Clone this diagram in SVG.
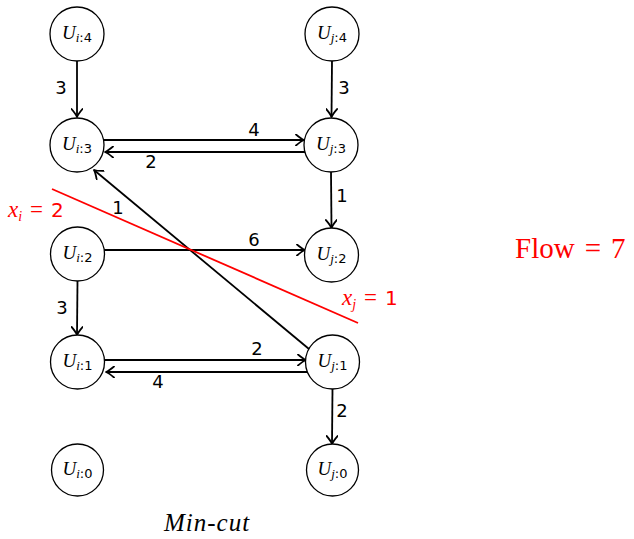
<svg xmlns="http://www.w3.org/2000/svg" width="634" height="539" viewBox="0 0 634 539">
<style>
.node circle{fill:#fff;stroke:#000;stroke-width:1.3}
.u{font-family:"Liberation Serif",serif;font-style:italic;font-size:19px}
.sub{font-size:13px}
.si{font-family:"Liberation Serif",serif;font-style:italic}
.sd{font-family:"DejaVu Sans",sans-serif;font-style:normal}
.edges line{stroke:#000;stroke-width:1.8;fill:none}
.el{font-family:"DejaVu Sans",sans-serif;font-size:18px;fill:#000;text-anchor:middle}
.red{fill:#f00}
</style>
<defs>
<marker id="arr" markerUnits="userSpaceOnUse" viewBox="-10 -6 12 12" markerWidth="12" markerHeight="12" refX="0" refY="0" orient="auto">
<path d="M-8,-5.5 Q-3,-1.2 0,0 Q-3,1.2 -8,5.5" fill="none" stroke="#000" stroke-width="1.8" stroke-linecap="round" stroke-linejoin="round"/>
</marker>
</defs>
<rect width="634" height="539" fill="#fff"/>
<g class="edges">
<line x1="77" y1="61" x2="77" y2="117" marker-end="url(#arr)"/>
<line x1="332" y1="61" x2="331.5" y2="117" marker-end="url(#arr)"/>
<line x1="103" y1="140" x2="304" y2="140" marker-end="url(#arr)"/>
<line x1="305" y1="152" x2="105" y2="152" marker-end="url(#arr)"/>
<line x1="331" y1="172" x2="331.5" y2="228" marker-end="url(#arr)"/>
<line x1="309" y1="349" x2="94" y2="170" marker-end="url(#arr)"/>
<line x1="104" y1="250" x2="305" y2="250" marker-end="url(#arr)"/>
<line x1="77.5" y1="281" x2="77" y2="335" marker-end="url(#arr)"/>
<line x1="104" y1="360" x2="306" y2="360" marker-end="url(#arr)"/>
<line x1="307" y1="372" x2="106" y2="372" marker-end="url(#arr)"/>
<line x1="332.5" y1="389" x2="332" y2="444" marker-end="url(#arr)"/>
<line x1="52" y1="189" x2="358" y2="323" style="stroke:#f00;stroke-width:1.8"/>
</g>
<g class="labels">
<text class="el" x="61" y="94">3</text>
<text class="el" x="344" y="94">3</text>
<text class="el" x="254" y="136">4</text>
<text class="el" x="151" y="168">2</text>
<text class="el" x="342" y="202">1</text>
<text class="el" x="118" y="214">1</text>
<text class="el" x="254" y="246">6</text>
<text class="el" x="62" y="314">3</text>
<text class="el" x="257" y="355">2</text>
<text class="el" x="158" y="388">4</text>
<text class="el" x="342" y="417">2</text>
</g>
<g id="n_i4" class="node"><circle cx="77" cy="34" r="27"/><text class="u" x="77" y="39" text-anchor="middle">U<tspan class="sub si" dy="3">i</tspan><tspan class="sub sd">:4</tspan></text></g>
<g id="n_i3" class="node"><circle cx="77" cy="145" r="27"/><text class="u" x="77" y="150" text-anchor="middle">U<tspan class="sub si" dy="3">i</tspan><tspan class="sub sd">:3</tspan></text></g>
<g id="n_i2" class="node"><circle cx="77.5" cy="254" r="27"/><text class="u" x="77.5" y="259" text-anchor="middle">U<tspan class="sub si" dy="3">i</tspan><tspan class="sub sd">:2</tspan></text></g>
<g id="n_i1" class="node"><circle cx="77.5" cy="362" r="27"/><text class="u" x="77.5" y="367" text-anchor="middle">U<tspan class="sub si" dy="3">i</tspan><tspan class="sub sd">:1</tspan></text></g>
<g id="n_i0" class="node"><circle cx="77.5" cy="470" r="26"/><text class="u" x="77.5" y="475" text-anchor="middle">U<tspan class="sub si" dy="3">i</tspan><tspan class="sub sd">:0</tspan></text></g>
<g id="n_j4" class="node"><circle cx="332" cy="34" r="27"/><text class="u" x="332" y="39" text-anchor="middle">U<tspan class="sub si" dy="3">j</tspan><tspan class="sub sd">:4</tspan></text></g>
<g id="n_j3" class="node"><circle cx="331" cy="145" r="27"/><text class="u" x="331" y="150" text-anchor="middle">U<tspan class="sub si" dy="3">j</tspan><tspan class="sub sd">:3</tspan></text></g>
<g id="n_j2" class="node"><circle cx="331.5" cy="255" r="27"/><text class="u" x="331.5" y="260" text-anchor="middle">U<tspan class="sub si" dy="3">j</tspan><tspan class="sub sd">:2</tspan></text></g>
<g id="n_j1" class="node"><circle cx="332.5" cy="362" r="27"/><text class="u" x="332.5" y="367" text-anchor="middle">U<tspan class="sub si" dy="3">j</tspan><tspan class="sub sd">:1</tspan></text></g>
<g id="n_j0" class="node"><circle cx="332.5" cy="470" r="26"/><text class="u" x="332.5" y="475" text-anchor="middle">U<tspan class="sub si" dy="3">j</tspan><tspan class="sub sd">:0</tspan></text></g>
<g id="cutlabels">
<text class="red" x="8" y="217" style="font-family:'Liberation Serif',serif;font-size:23px"><tspan font-style="italic">x</tspan><tspan font-style="italic" font-size="14" dy="4">i</tspan><tspan dy="-4" dx="8">=</tspan><tspan dx="8" style="font-family:'DejaVu Sans',sans-serif;font-size:20px">2</tspan></text>
<text class="red" x="342" y="305" style="font-family:'Liberation Serif',serif;font-size:23px"><tspan font-style="italic">x</tspan><tspan font-style="italic" font-size="14" dy="4">j</tspan><tspan dy="-4" dx="8">=</tspan><tspan dx="8" style="font-family:'DejaVu Sans',sans-serif;font-size:20px">1</tspan></text>
<text class="red" x="515" y="258" style="font-family:'Liberation Serif',serif;font-size:29px">Flow<tspan dx="10">=</tspan><tspan dx="10">7</tspan></text>
<text x="164" y="531" style="font-family:'Liberation Serif',serif;font-style:italic;font-size:25px;letter-spacing:1px">Min-cut</text>
</g>
</svg>
